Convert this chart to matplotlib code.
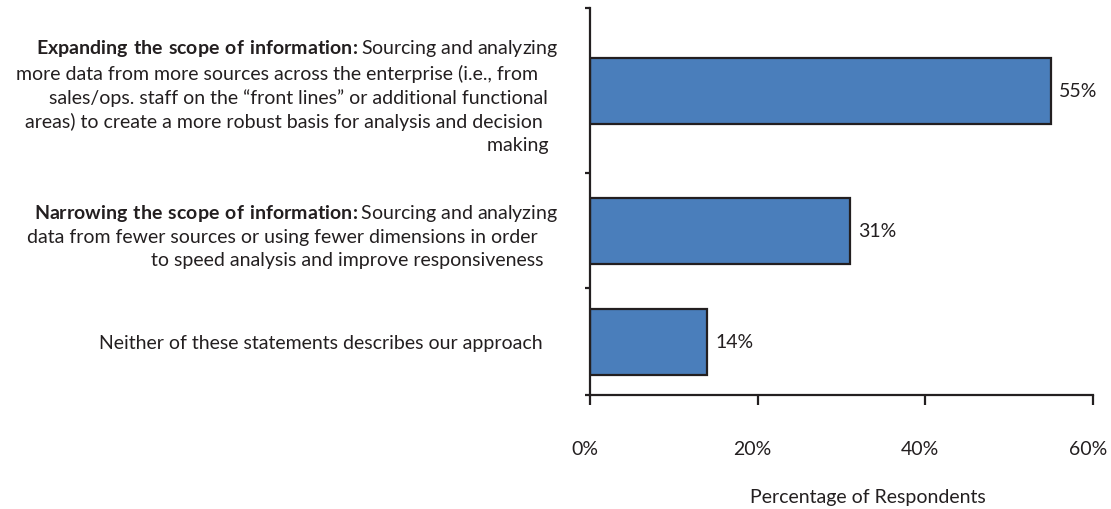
import matplotlib.pyplot as plt
import matplotlib.transforms as mtransforms
import numpy as np

plt.rcParams['font.family'] = 'Lato'
plt.rcParams['mathtext.fontset'] = 'custom'
plt.rcParams['mathtext.rm'] = 'Lato'
plt.rcParams['mathtext.bf'] = 'Lato:bold'

# data (trailing spaces kept as in the source labels)
categories = [
    r"$\mathbf{Expanding\ the\ scope\ of\ information\!:}$Sourcing and analyzing"
    "\nmore data from more sources across the enterprise (i.e., from    "
    "\nsales/ops. staff on the \u201cfront lines\u201d or additional functional  "
    "\nareas) to create a more robust basis for analysis and decision   "
    "\nmaking  ",
    r"$\mathbf{Narrowing\ the\ scope\ of\ information\!:}$Sourcing and analyzing"
    "\ndata from fewer sources or using fewer dimensions in order    "
    "\nto speed analysis and improve responsiveness   ",
    "Neither of these statements describes our approach   ",
]
values = [55, 31, 14]
x_ticks = [0, 20, 40, 60]
x_label = "Percentage of Respondents"

# layout: relative height of each category band (top to bottom)
band = [1.65, 1.15, 1.07]
edges = np.concatenate([[0], np.cumsum(band)])
centers = (edges[:-1] + edges[1:]) / 2

dark = '#231f20'
fill = '#4a7ebb'
fs = 14

fig = plt.figure(figsize=(11.11, 5.10), dpi=100)
ax = fig.add_axes([590 / 1111, 1 - 396 / 510, 503 / 1111, 387 / 510])

ax.barh(centers, values, height=0.66, color=fill, edgecolor=dark, linewidth=1.6)
for c, v in zip(centers, values):
    ax.annotate(f"{v}%", (v, c), xytext=(6, 0), textcoords='offset points',
                va='center', ha='left', fontsize=fs, color=dark)

ax.set_xlim(0, 60)
ax.set_ylim(edges[-1], 0)

for s in ['top', 'right']:
    ax.spines[s].set_visible(False)
for s in ['left', 'bottom']:
    ax.spines[s].set_linewidth(1.6)
    ax.spines[s].set_color(dark)

ax.set_xticks(x_ticks)
ax.set_xticklabels([f"{t}%" for t in x_ticks])
ax.tick_params(axis='x', direction='out', length=7.5, width=1.6, color=dark,
               pad=25, labelsize=fs, labelcolor=dark)
shift = mtransforms.ScaledTranslation(-5 / 100, 0, fig.dpi_scale_trans)
for lab in ax.get_xticklabels():
    lab.set_transform(lab.get_transform() + shift)

ax.set_yticks(edges)
ax.set_yticklabels([])
ax.tick_params(axis='y', which='major', direction='out', length=3.8, width=1.6, color=dark)
ax.set_yticks(centers, minor=True)
ax.set_yticklabels(categories, minor=True)
ax.tick_params(axis='y', which='minor', length=0, pad=23, labelsize=fs, labelcolor=dark)
for lab in ax.get_yticklabels(minor=True):
    lab.set_multialignment('right')
    lab.set_linespacing(1.4)

fig.text(868 / 1111, 1 - 498 / 510, x_label, ha='center', va='center',
         fontsize=fs, color=dark)

fig.savefig('out.png', dpi=100)
